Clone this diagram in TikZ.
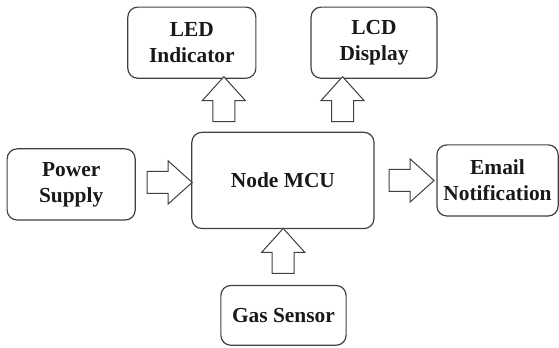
\documentclass[tikz,border=0pt]{standalone}
\usepackage{fontspec}
\newfontfamily\boxfont{Liberation Serif}
\usetikzlibrary{shapes.arrows,calc}
\begin{document}
\begin{tikzpicture}[font=\boxfont\fontsize{10.7}{13}\selectfont\bfseries,
	blk/.style={draw=black!75,line width=0.6pt,rounded corners=5pt,align=center,text=black!90,inner sep=1pt},
	arr/.style={single arrow,draw=black!75,line width=0.5pt,fill=white,inner xsep=0pt,inner ysep=1.85mm,
		minimum height=7.9mm,single arrow head extend=1.85mm,single arrow tip angle=84}]
	\useasboundingbox (0,0) rectangle (9.82,6.10);
	\node[blk,minimum width=32mm,minimum height=16.9mm] (mcu) at (4.97,2.93) {Node MCU};
	\node[blk,minimum width=22.5mm,minimum height=12.5mm] (led) at (3.37,5.35) {LED\\Indicator};
	\node[blk,minimum width=22.1mm,minimum height=12.5mm] (lcd) at (6.57,5.35) {LCD\\Display};
	\node[blk,minimum width=22.5mm,minimum height=12.5mm] (pwr) at (1.25,2.86) {Power\\Supply};
	\node[blk,minimum width=21.3mm,minimum height=12.5mm] (mail) at (8.74,2.93) {Email\\Notification};
	\node[blk,minimum width=22mm,minimum height=10.5mm] (gas) at (4.98,0.56) {Gas Sensor};
	% block arrows between the boxes
	\node[arr] (apwr) at ($(pwr.east)!.5!(mcu.west)$) {};
	\node[arr] (amail) at ($(mcu.east)!.5!(mail.west)$) {};
	\node[arr,rotate=90] (agas) at ($(gas.north)!.5!(mcu.south)$) {};
	\node[arr,rotate=90] (aled) at ($(mcu.north west)!.5!(led.south east)$) {};
	\node[arr,rotate=90] (alcd) at ($(mcu.north east)!.5!(lcd.south west)$) {};
\end{tikzpicture}
\end{document}
